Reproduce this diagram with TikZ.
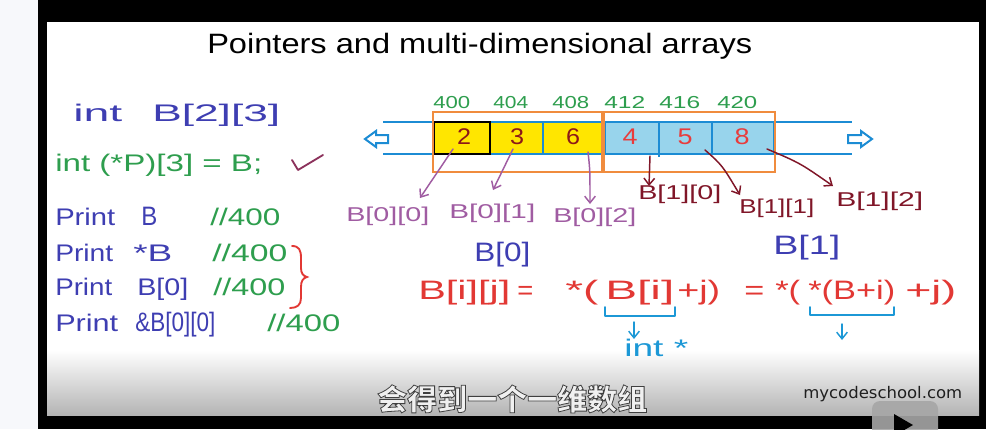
\documentclass[tikz,border=0pt]{standalone}
\usepackage{fontspec}
\usepackage{graphicx}
\setmainfont{Liberation Sans}
\newfontfamily\cjkfont{Noto Sans CJK SC}
\newfontfamily\wmfont{DejaVu Sans}
\usetikzlibrary{arrows.meta}
\newdimen\pxu \pxu=0.75pt
\newcommand\hw[2]{\resizebox{#1\pxu}{\height}{\vphantom{[]}#2}}
\newcommand\fsz[1]{\fontsize{#1}{#1}\selectfont}
\newcommand\outlined[1]{\special{pdf:literal direct 2 Tr 0.6 w 0.25 G}#1\special{pdf:literal direct 0 Tr}}
\definecolor{hblue}{RGB}{62,62,178}
\definecolor{hgreen}{RGB}{46,158,78}
\definecolor{hpurple}{RGB}{160,92,162}
\definecolor{hdred}{RGB}{128,22,40}
\definecolor{hred}{RGB}{226,56,52}
\definecolor{hcyan}{RGB}{28,152,214}
\definecolor{horange}{RGB}{240,140,62}
\definecolor{hyellow}{RGB}{255,230,0}
\definecolor{hcell}{RGB}{152,212,236}
\definecolor{hline}{RGB}{28,140,212}
\definecolor{hnum}{RGB}{140,24,24}
\definecolor{hnumr}{RGB}{232,60,60}
\definecolor{hcheck}{RGB}{140,50,92}
\definecolor{offwhite}{RGB}{247,248,251}
\definecolor{botgray}{RGB}{180,180,180}
\begin{document}
\begin{tikzpicture}[x=0.75pt,y=-0.75pt,
  lbl/.style={inner sep=0pt,anchor=west},
  lcol/.style={lbl,font=\fsz{18}},
  addr/.style={lbl,font=\fsz{13},text=hgreen},
  cellnum/.style={inner sep=0pt,font=\fsz{17}},
  idx/.style={lbl,font=\fsz{15}},
  frm/.style={lbl,font=\fsz{20},text=hred},
  handarrow/.style={line width=1.1pt,line cap=round,-{Straight Barb[length=5pt,width=8pt,line width=1.1pt]}},
  hollow/.style={draw=hline,line width=1.5pt,fill=white,line join=miter}
]
\clip (0,0) rectangle (986,429);
% frame and background
\fill[offwhite] (0,0) rectangle (38,429);
\fill[black] (38,0) rectangle (986,429);
\fill[white] (47,22) rectangle (979,415);
\shade[top color=white,bottom color=botgray] (47,350) rectangle (979,415);

% title
\node[lbl,font=\fsz{21}] (title) at (207,46) {\hw{545}{Pointers and multi-dimensional arrays}};

% left column
\node[lcol,text=hblue] (intA) at (73,115) {\hw{49}{int}};
\node[lcol,text=hblue] (decl) at (152,115) {\hw{128}{B[2][3]}};
\node[lcol,text=hgreen] (ptr) at (55,165) {\hw{207}{int (*P)[3] = B;}};
\coordinate (ck1) at (292,160);
\coordinate (ck2) at (298,170);
\coordinate (ck3) at (323,155);
\draw[hcheck,line width=1.4pt,line cap=round,line join=round] (ck1) -- (ck2) -- (ck3);

\node[lcol,text=hblue] (pr1) at (55,219) {\hw{60}{Print}};
\node[lcol,text=hblue,font=\fsz{20}] (pr1a) at (141,219) {\hw{16}{B}};
\node[lcol,text=hgreen] (pr1b) at (210,219) {\hw{70}{//400}};
\node[lcol,text=hblue] (pr2) at (55,255) {\hw{58}{Print}};
\node[lcol,text=hblue] (pr2a) at (133,255) {\hw{39}{*B}};
\node[lcol,text=hgreen] (pr2b) at (212,255) {\hw{75}{//400}};
\node[lcol,text=hblue] (pr3) at (55,289) {\hw{57}{Print}};
\node[lcol,text=hblue] (pr3a) at (137,289) {\hw{51}{B[0]}};
\node[lcol,text=hgreen] (pr3b) at (213,289) {\hw{72}{//400}};
\node[lcol,text=hblue] (pr4) at (55,325) {\hw{63}{Print}};
\node[lcol,text=hblue,font=\fsz{20}] (pr4a) at (135,325) {\hw{80}{\&B[0][0]}};
\node[lcol,text=hgreen] (pr4b) at (267,325) {\hw{73}{//400}};
\draw[hred,line width=1.4pt,line cap=round] (292,246) .. controls (299,246) and (301,250) .. (301,258) -- (301,268) .. controls (301,273) and (303,276) .. (307,277) .. controls (303,278) and (301,281) .. (301,287) -- (301,298) .. controls (301,305) and (297,308) .. (290,308);

% array
\fill[hyellow] (433,121) rectangle (603,154);
\fill[hcell] (604,121) rectangle (774,154);
\draw[hline,line width=1.5pt] (543,121) -- (543,154);
\draw[hline,line width=1.5pt] (605,121) -- (605,154);
\draw[hline,line width=1.5pt] (659,121) -- (659,157);
\draw[hline,line width=1.5pt] (712,121) -- (712,154);
\draw[hline,line width=1.5pt] (774,121) -- (774,154);
\draw[hline,line width=1.5pt] (383,122) -- (852,122);
\draw[hline,line width=1.5pt] (383,154) -- (852,154);
\draw[black,line width=2pt] (434,122) rectangle (490,154);
\draw[horange,line width=2pt] (433,112) rectangle (602,172);
\draw[horange,line width=2pt] (604,112) rectangle (775,172);
\draw[hollow] (365,139) -- (376,131) -- (376,135) -- (388,135) -- (388,143) -- (376,143) -- (376,147) -- cycle;
\draw[hollow] (872,139) -- (861,131) -- (861,135) -- (848,135) -- (848,143) -- (861,143) -- (861,147) -- cycle;

\node[cellnum,text=hnum] (v0) at (464,139) {\hw{14}{2}};
\node[cellnum,text=hnum] (v1) at (517,139) {\hw{14}{3}};
\node[cellnum,text=hnum] (v2) at (573,139) {\hw{14}{6}};
\node[cellnum,text=hnumr] (v3) at (630,139) {\hw{15}{4}};
\node[cellnum,text=hnumr] (v4) at (685,139) {\hw{15}{5}};
\node[cellnum,text=hnumr] (v5) at (742,139) {\hw{15}{8}};

\node[addr] (a0) at (433,104) {\hw{37}{400}};
\node[addr] (a1) at (493,104) {\hw{35}{404}};
\node[addr] (a2) at (552,104) {\hw{37}{408}};
\node[addr] (a3) at (604,104) {\hw{41}{412}};
\node[addr] (a4) at (659,104) {\hw{41}{416}};
\node[addr] (a5) at (717,104) {\hw{40}{420}};

% element labels
\node[idx,text=hpurple] (l00) at (346,216) {\hw{83}{B[0][0]}};
\node[idx,text=hpurple] (l01) at (449,213) {\hw{86}{B[0][1]}};
\node[idx,text=hpurple] (l02) at (553,217) {\hw{83}{B[0][2]}};
\node[idx,text=hdred] (l10) at (638,194) {\hw{83}{B[1][0]}};
\node[idx,text=hdred] (l11) at (739,208) {\hw{75}{B[1][1]}};
\node[idx,text=hdred] (l12) at (836,201) {\hw{87}{B[1][2]}};
\node[lbl,font=\fsz{20},text=hblue] (row0) at (474,255) {\hw{56}{B[0]}};
\node[lbl,font=\fsz{20},text=hblue] (row1) at (773,248) {\hw{67}{B[1]}};

\coordinate (s0) at (453,149); \coordinate (t0) at (420,198);
\coordinate (s1) at (513,149); \coordinate (t1) at (493,190);
\coordinate (s2) at (588,152); \coordinate (t2) at (590,204);
\coordinate (s3) at (650,156); \coordinate (t3) at (649,186);
\coordinate (s4) at (705,150); \coordinate (t4) at (740,195);
\coordinate (s5) at (767,149); \coordinate (t5) at (833,186);
\draw[handarrow,hpurple] (s0) -- (t0);
\draw[handarrow,hpurple] (s1) -- (t1);
\draw[handarrow,hpurple] (s2) .. controls (590,170) .. (t2);
\draw[handarrow,hdred] (s3) -- (t3);
\draw[handarrow,hdred] (s4) .. controls (722,165) .. (t4);
\draw[handarrow,hdred] (s5) .. controls (800,163) .. (t5);

% formula
\node[frm] (f1) at (418,293) {\hw{92}{B[i][j]}};
\node[frm] (f1e) at (517,293) {\hw{16}{=}};
\node[frm] (f2a) at (565,293) {\hw{33}{*(}};
\node[frm] (f2b) at (605,293) {\hw{69}{B[i]}};
\node[frm] (f2c) at (677,293) {\hw{43}{+j)}};
\node[frm] (f3a) at (744,293) {\hw{20}{=}};
\node[frm] (f3b) at (775,293) {\hw{25}{*(}};
\node[frm] (f3c) at (808,293) {\hw{87}{*(B+i)}};
\node[frm] (f3d) at (905,293) {\hw{51}{+j)}};

\draw[hcyan,line width=1.5pt,line cap=round,line join=round] (605,307) -- (605,316) -- (675,316) -- (675,307);
\draw[hcyan,line width=1.5pt,line cap=round,line join=round] (810,307) -- (810,315) -- (894,315) -- (894,307);
\coordinate (d1s) at (634,322); \coordinate (d1e) at (634,339);
\coordinate (d2s) at (842,324); \coordinate (d2e) at (842,340);
\draw[handarrow,hcyan] (d1s) -- (d1e);
\draw[handarrow,hcyan] (d2s) -- (d2e);
\node[lbl,font=\fsz{18},text=hcyan] (intstar) at (624,350) {\hw{64}{int *}};

% subtitle with outline
\node[lbl,font={\cjkfont\bfseries\fsz{22}},text=white!94!black] (subtitle) at (377,400) {\hw{270}{\outlined{会得到一个一维数组}}};

% watermark
\node[lbl,font={\wmfont\fsz{12}},text=black!88] (wm) at (803,394) {\hw{159}{mycodeschool.com}};
\fill[gray!70,opacity=0.9,rounded corners=6pt] (872,401) rectangle (938,445);
\fill[black] (894,414) -- (894,436) -- (913,425) -- cycle;
\end{tikzpicture}
\end{document}
